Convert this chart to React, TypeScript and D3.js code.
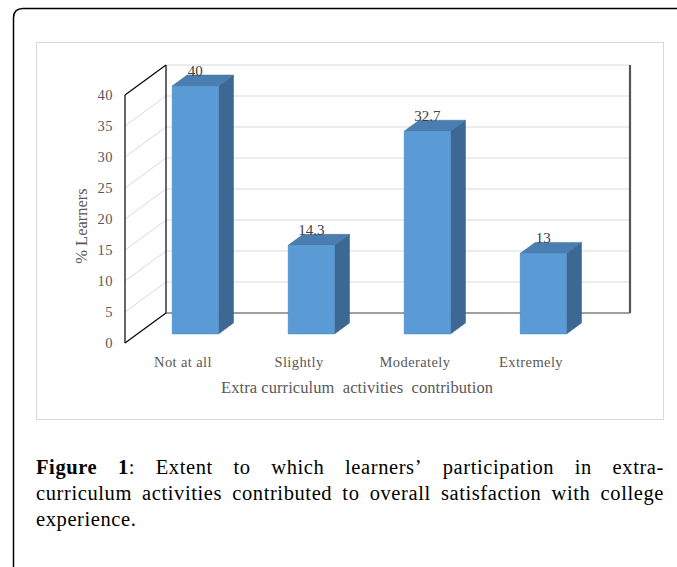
import React, { useEffect, useRef } from "react";
import * as d3 from "d3";

// chart values
const categories = ["Not at all", "Slightly", "Moderately", "Extremely"];
const values = [40, 14.3, 32.7, 13];
const valueLabels = ["40", "14.3", "32.7", "13"];
const yTicks = [0, 5, 10, 15, 20, 25, 30, 35, 40];

const xTitle = "Extra curriculum  activities  contribution";
const yTitle = "% Learners";

// caption lines (justified like the journal layout)
const captionLines = [
  "Figure 1: Extent to which learners’ participation in extra-",
  "curriculum activities contributed to overall satisfaction with college",
  "experience.",
];

const App: React.FC = () => {
  const svgRef = useRef<SVGSVGElement | null>(null);

  useEffect(() => {
    if (!svgRef.current) return;
    const width = 677;
    const height = 567;

    d3.select(svgRef.current).selectAll("*").remove();
    const svg = d3
      .select(svgRef.current)
      .attr("width", width)
      .attr("height", height)
      .attr("viewBox", `0 0 ${width} ${height}`);

    // outer frame (rounded top-left corner)
    svg
      .append("path")
      .attr("d", "M13.5,567 V18 Q13.5,8.5 23,8.5 H677")
      .attr("fill", "none")
      .attr("stroke", "#000")
      .attr("stroke-width", 1.5);

    // chart box
    svg
      .append("rect")
      .attr("x", 36.5)
      .attr("y", 42.5)
      .attr("width", 627)
      .attr("height", 377)
      .attr("fill", "#fff")
      .attr("stroke", "#d9d9d9");

    // pseudo-3D geometry
    const front = { left: 125, right: 589, bottom: 343, top: 95 };
    const depth = { dx: 41, dy: -30 };
    const barPos = 0.3; // bar front face placed at 30% of the depth
    const barDepth = { dx: 15, dy: -11 };

    const x = d3
      .scaleBand<string>()
      .domain(categories)
      .range([front.left, front.right])
      .paddingInner(0.6)
      .paddingOuter(0.3);

    const y = d3
      .scaleLinear()
      .domain([0, 40])
      .range([front.bottom, front.top]);

    const g = svg.append("g");
    const bx = front.left + depth.dx;
    const rightX = front.right + depth.dx;

    // back wall gridlines
    yTicks
      .filter((t) => t > 0)
      .forEach((t) => {
        g.append("line")
          .attr("x1", bx)
          .attr("x2", rightX)
          .attr("y1", y(t) + depth.dy)
          .attr("y2", y(t) + depth.dy)
          .attr("stroke", "#d9d9d9")
          .attr("stroke-width", 1);
      });

    // side wall gridlines
    yTicks
      .filter((t) => t > 0 && t < 40)
      .forEach((t) => {
        g.append("line")
          .attr("x1", front.left)
          .attr("y1", y(t))
          .attr("x2", bx)
          .attr("y2", y(t) + depth.dy)
          .attr("stroke", "#d9d9d9")
          .attr("stroke-width", 1);
      });

    // wall edges
    const edge = (x1: number, y1: number, x2: number, y2: number, c = "#000", w = 1.2) =>
      g
        .append("line")
        .attr("x1", x1)
        .attr("y1", y1)
        .attr("x2", x2)
        .attr("y2", y2)
        .attr("stroke", c)
        .attr("stroke-width", w);

    edge(front.left, y(0), front.left, y(40));
    edge(front.left, y(40), bx, y(40) + depth.dy);
    edge(front.left, y(0), bx, y(0) + depth.dy);
    edge(bx, y(0) + depth.dy, bx, y(40) + depth.dy);
    edge(bx, y(0) + depth.dy, rightX, y(0) + depth.dy, "#404040", 1.2);
    edge(rightX, y(0) + depth.dy, rightX, y(40) + depth.dy, "#555", 2.2);

    // bars
    const bw = x.bandwidth();
    const shiftX = depth.dx * barPos;
    const shiftY = depth.dy * barPos;
    const serif = "Liberation Serif, serif";

    values.forEach((v, i) => {
      const x0 = (x(categories[i]) as number) + shiftX;
      const x1 = x0 + bw;
      const yb = y(0) + shiftY;
      const yt = y(v) + shiftY;
      const { dx, dy } = barDepth;

      g.append("path")
        .attr("d", `M${x1},${yb} L${x1 + dx},${yb + dy} L${x1 + dx},${yt + dy} L${x1},${yt} Z`)
        .attr("fill", "#3d6893")
        .attr("stroke", "#36608a")
        .attr("stroke-width", 0.5);

      g.append("path")
        .attr("d", `M${x0},${yt} L${x0 + dx},${yt + dy} L${x1 + dx},${yt + dy} L${x1},${yt} Z`)
        .attr("fill", "#4a7db0")
        .attr("stroke", "#41719c")
        .attr("stroke-width", 0.5);

      g.append("rect")
        .attr("x", x0)
        .attr("y", yt)
        .attr("width", bw)
        .attr("height", yb - yt)
        .attr("fill", "#5b9bd5")
        .attr("stroke", "#4f8cc4")
        .attr("stroke-width", 0.5);

      g.append("text")
        .attr("x", x0 + bw / 2)
        .attr("y", yt - 10)
        .attr("text-anchor", "middle")
        .attr("font-family", serif)
        .attr("font-size", 15)
        .attr("fill", "#404040")
        .text(valueLabels[i]);
    });

    const textColor = "#595959";

    // y tick labels
    yTicks.forEach((t) => {
      g.append("text")
        .attr("x", 113)
        .attr("y", y(t))
        .attr("dy", "0.35em")
        .attr("text-anchor", "end")
        .attr("font-family", serif)
        .attr("font-size", 14.5)
        .attr("letter-spacing", 0.5)
        .attr("fill", textColor)
        .text(t);
    });

    // category labels
    categories.forEach((c) => {
      g.append("text")
        .attr("x", (x(c) as number) + bw / 2)
        .attr("y", 367)
        .attr("text-anchor", "middle")
        .attr("font-family", serif)
        .attr("font-size", 14.5)
        .attr("letter-spacing", 0.4)
        .attr("fill", textColor)
        .text(c);
    });

    // axis titles
    g.append("text")
      .attr("x", 357)
      .attr("y", 393)
      .attr("text-anchor", "middle")
      .attr("font-family", serif)
      .attr("font-size", 16.5)
      .attr("fill", textColor)
      .attr("textLength", 272)
      .attr("lengthAdjust", "spacing")
      .style("white-space", "pre")
      .text(xTitle);

    g.append("text")
      .attr("transform", "translate(87,226) rotate(-90)")
      .attr("text-anchor", "middle")
      .attr("font-family", serif)
      .attr("font-size", 16.5)
      .attr("fill", textColor)
      .text(yTitle);

    // caption, justified between the chart box edges
    const capLeft = 36;
    const capRight = 664;
    const baselines = [474, 500, 526];
    captionLines.forEach((line, li) => {
      const words = line.split(" ");
      const nodes = words.map((w, wi) => {
        const t = svg
          .append("text")
          .attr("y", baselines[li])
          .attr("font-family", serif)
          .attr("font-size", 20.5)
          .attr("letter-spacing", 0.6)
          .attr("fill", "#000");
        if (li === 0 && wi === 0) {
          t.append("tspan").attr("font-weight", "bold").text(w);
        } else if (li === 0 && wi === 1) {
          t.append("tspan").attr("font-weight", "bold").text("1");
          t.append("tspan").text(":");
        } else {
          t.text(w);
        }
        return t;
      });
      const widths = nodes.map((n) => (n.node() as SVGTextElement).getComputedTextLength());
      const total = d3.sum(widths);
      const justify = li < captionLines.length - 1;
      const gap = justify ? (capRight - capLeft - total) / (words.length - 1) : 5;
      let cx = capLeft;
      nodes.forEach((n, i) => {
        n.attr("x", cx);
        cx += widths[i] + gap;
      });
    });
  }, []);

  return (
    <div style={{ position: "absolute", left: 0, top: 0 }}>
      <svg ref={svgRef} style={{ display: "block" }} />
    </div>
  );
};

export default App;
